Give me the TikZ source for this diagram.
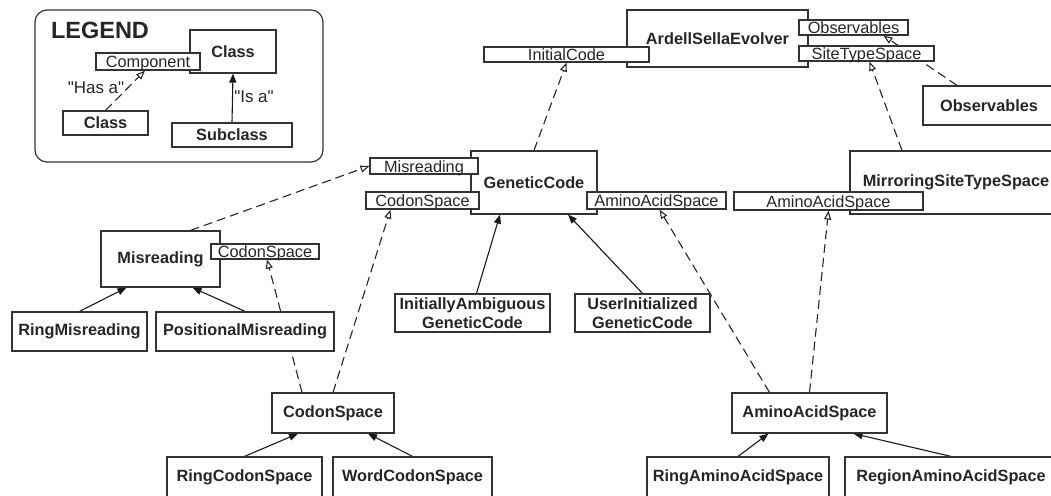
\documentclass[tikz,border=0pt]{standalone}
\usepackage{fontspec}
\setmainfont{Liberation Sans}
\newfontfamily\quotefont{Liberation Sans}
\usetikzlibrary{arrows.meta,backgrounds}

\tikzset{%
  every class/.style={
    draw=black!80,
    fill=white,
    line width=1.2pt,
    inner sep=0pt,
    text=black!85,
    align=center,
    font=\bfseries\fontsize{16.3}{18.5}\selectfont
  },
  member/.style={
    draw=black!80,
    fill=white,
    line width=1.2pt,
    inner sep=0pt,
    text=black!85,
    text height=12pt,
    text depth=0pt,
    font=\fontsize{16.3}{18}\selectfont
  },
  has a/.style={
    draw=black!85,
    line width=1.1pt,
    dash pattern=on 9pt off 5pt,
    -{Triangle[open,length=9pt,width=7pt]}
  },
  is a/.style={
    draw=black!90,
    line width=1.1pt,
    -{Triangle[length=9pt,width=7pt]}
  },
}

\begin{document}
\begin{tikzpicture}[x=1pt, y=-1pt]
    \useasboundingbox (0,0) rectangle (1051,495);
    \clip (0,0) rectangle (1051,495);

    % legend
    \node [draw=black!80, line width=1.2pt, rounded corners=12pt, minimum width=288pt, minimum height=152pt] (legend) at (179,86) {};
    \node [font=\bfseries\fontsize{23.5}{26}\selectfont, text=black!85] (legend-title) at (100,30) {LEGEND};
    \node [every class, minimum width=86pt, minimum height=43pt] (legend-class) at (233,51.5) {Class};
    \node [member, minimum width=104pt, minimum height=17pt] (legend-comp) at (148,61.5) {Component};
    \node [every class, minimum width=85pt, minimum height=24pt] (legend-user) at (105.5,123) {Class};
    \node [every class, minimum width=120pt, minimum height=24pt] (legend-sub) at (232,135) {Subclass};
    \node [font=\quotefont\fontsize{17}{19}\selectfont, text=black!85] (legend-hasa) at (96,88) {"Has a"};
    \node [font=\quotefont\fontsize{17}{19}\selectfont, text=black!85] (legend-isa) at (254,97) {"Is a"};

    % classes
    \node [every class, minimum width=181pt, minimum height=57pt] (evolver) at (717.5,38.5) {ArdellSellaEvolver};
    \node [every class, minimum width=132pt, minimum height=39pt] (observables) at (989,105.5) {Observables};
    \node [every class, minimum width=212pt, minimum height=63pt] (mirroring) at (956,182.5) {MirroringSiteTypeSpace};
    \node [every class, minimum width=126pt, minimum height=63pt] (code) at (534,182.5) {GeneticCode};
    \node [every class, minimum width=119pt, minimum height=56pt] (misreading) at (160.5,259) {Misreading};
    \node [every class, minimum width=135pt, minimum height=39pt] (ring-mis) at (79.5,331.5) {RingMisreading};
    \node [every class, minimum width=178pt, minimum height=39pt] (pos-mis) at (245,331.5) {PositionalMisreading};
    \node [every class, minimum width=155pt, minimum height=38pt] (ambiguous) at (472.5,313) {InitiallyAmbiguous\\GeneticCode};
    \node [every class, minimum width=135pt, minimum height=38pt] (user) at (642.5,313) {UserInitialized\\GeneticCode};
    \node [every class, minimum width=122pt, minimum height=40pt] (codons) at (333,413) {CodonSpace};
    \node [every class, minimum width=155pt, minimum height=40pt] (ring-codons) at (244.5,477) {RingCodonSpace};
    \node [every class, minimum width=159pt, minimum height=40pt] (word-codons) at (412.5,477) {WordCodonSpace};
    \node [every class, minimum width=155pt, minimum height=40pt] (aminos) at (809.5,413) {AminoAcidSpace};
    \node [every class, minimum width=182pt, minimum height=40pt] (ring-aminos) at (738,477) {RingAminoAcidSpace};
    \node [every class, minimum width=212pt, minimum height=40pt] (region-aminos) at (951,477) {RegionAminoAcidSpace};

    % components
    \node [member, minimum width=165pt, minimum height=15pt] (evolver-code) at (566.5,54.5) {InitialCode};
    \node [member, minimum width=109pt, minimum height=15pt] (evolver-obs) at (853.5,27.5) {Observables};
    \node [member, minimum width=135pt, minimum height=15pt] (evolver-sites) at (866.5,53.5) {SiteTypeSpace};
    \node [member, minimum width=189pt, minimum height=18pt] (mirroring-aminos) at (828.5,201) {AminoAcidSpace};
    \node [member, minimum width=108pt, minimum height=16pt] (code-mis) at (424,166) {Misreading};
    \node [member, minimum width=113pt, minimum height=17pt] (code-codons) at (422.5,200.5) {CodonSpace};
    \node [member, minimum width=139pt, minimum height=17pt] (code-aminos) at (656.5,200.5) {AminoAcidSpace};
    \node [member, minimum width=108pt, minimum height=15pt] (mis-codons) at (265,251.5) {CodonSpace};

    \begin{pgfonlayer}{background}
        \draw [has a] (legend-user.north) -- ([xshift=-3pt]legend-comp.south);
        \draw [is a] (legend-sub.north) -- (legend-class.south);

        \draw [has a] (code.north) -- (evolver-code.south);
        \draw [has a] ([xshift=-54pt]mirroring.north) -- ([xshift=3pt]evolver-sites.south);
        \draw [has a] ([xshift=-32pt]observables.north) -- ([xshift=30pt]evolver-obs.south);
        \draw [has a] ([xshift=30pt]misreading.north) -- (code-mis.west);
        \draw [has a] ([xshift=-31pt]codons.north) -- ([xshift=2pt]mis-codons.south);
        \draw [has a] (codons.north) -- ([xshift=-32pt]code-codons.south);
        \draw [has a] ([xshift=-40pt]aminos.north) -- ([xshift=3pt]code-aminos.south);
        \draw [has a] (aminos.north) -- (mirroring-aminos.south);

        \draw [is a] ([xshift=4pt]ambiguous.north) -- ([xshift=-34pt]code.south);
        \draw [is a] (user.north) -- ([xshift=34pt]code.south);
        \draw [is a] (ring-mis.north) -- ([xshift=-34pt]misreading.south);
        \draw [is a] (pos-mis.north) -- ([xshift=32pt]misreading.south);
        \draw [is a] (ring-codons.north) -- ([xshift=-35pt]codons.south);
        \draw [is a] (word-codons.north) -- ([xshift=35pt]codons.south);
        \draw [is a] (ring-aminos.north) -- ([xshift=-41pt]aminos.south);
        \draw [is a] (region-aminos.north) -- ([xshift=44pt]aminos.south);
    \end{pgfonlayer}
\end{tikzpicture}
\end{document}
